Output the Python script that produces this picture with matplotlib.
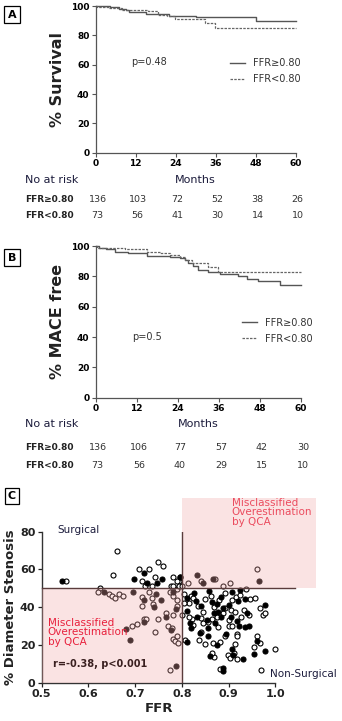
import numpy as np
import matplotlib
matplotlib.use("Agg")
import matplotlib.pyplot as plt
from matplotlib import patches, transforms

# ---- panel A: survival ----
a_hi_t = [0, 4.3, 7, 9, 10, 15, 22, 30, 48, 60]
a_hi_s = [100, 99, 98, 97, 96, 94.5, 93.4, 92.3, 89.5, 89.5]
a_lo_t = [0, 0.5, 4, 7.8, 15.8, 18.8, 21.5, 23.8, 32.8, 35.8, 60]
a_lo_s = [100, 99, 98.5, 97.5, 96.8, 93.9, 93.4, 90.9, 88.6, 84.8, 84.8]
a_risk_hi = [136, 103, 72, 52, 38, 26]
a_risk_lo = [73, 56, 41, 30, 14, 10]

# ---- panel B: MACE free ----
b_hi_t = [0, 1, 3, 5.6, 9.5, 14.9, 21.7, 24.6, 26, 27, 28.5, 30, 32.9, 36.3, 41.7, 44.1, 47.5, 53.8, 60]
b_hi_s = [100, 99, 98, 96.3, 95.2, 93.7, 93, 91.9, 90.8, 88.7, 86.9, 84.3, 82.6, 81.5, 80, 78.4, 76.7, 74.5, 74.5]
b_lo_t = [0, 0.5, 8.6, 14.9, 18.8, 21.7, 24.6, 26, 28, 32.9, 35.8, 60]
b_lo_s = [100, 99, 97.8, 96.3, 95.2, 94.1, 93, 90.8, 88.7, 86, 82.8, 82.8]
b_risk_hi = [136, 106, 77, 57, 42, 30]
b_risk_lo = [73, 56, 40, 29, 15, 10]

months = [0, 12, 24, 36, 48, 60]

# ---- panel C: FFR vs % diameter stenosis ----
filled = [(0.544,54),(0.633,48),(0.68,28.7),(0.69,22.6),(0.698,55),(0.72,58),(0.725,53),(0.696,48),
          (0.718,44),(0.72,32),(0.741,40),(0.745,47),(0.758,55),(0.756,44),(0.746,53),(0.767,35),
          (0.78,48),(0.777,28),(0.787,8.8),(0.787,39),(0.797,55.8),
          (0.832,57),(0.846,53),(0.867,55),(0.966,54),(0.925,49),
          (0.81,45),(0.827,47.5),(0.83,43.5),(0.84,40.6),(0.832,35),(0.818,31.5),(0.819,28.8),(0.81,38),
          (0.811,21.6),(0.839,26.5),(0.857,24.7),(0.861,14.3),(0.876,19.8),(0.887,8),(0.887,6.4),
          (0.907,17.7),(0.91,14.8),(0.93,12.5),(0.895,26),(0.922,30),(0.935,29.7),(0.943,30),(0.939,37),
          (0.935,44.5),(0.955,15),(0.961,22),(0.977,41),(0.977,16.8),
          (0.858,48.8),(0.865,43),(0.875,41.7),(0.884,45.6),(0.887,39.4),(0.9,41),(0.921,43.5),(0.906,35),
          (0.871,31.8),(0.853,33.2),(0.884,35),(0.878,37.6),(0.868,36.7),(0.856,29),(0.907,48),(0.917,32.9)]
hollow = [(0.553,54),(0.662,70),(0.652,57),(0.625,50),(0.62,48),(0.644,47),(0.65,46),(0.657,45),(0.666,47),
          (0.673,46),(0.693,30),(0.704,31),(0.709,60),(0.715,54),(0.729,60),(0.722,51),(0.714,45.6),
          (0.714,40.6),(0.719,34),(0.724,34),(0.742,26.7),(0.739,41.7),(0.737,44.7),(0.743,56),(0.736,51),
          (0.729,48),(0.749,64),(0.759,62),(0.749,34),(0.766,37),(0.78,55.8),(0.776,51),(0.782,51),
          (0.775,48),(0.782,46),(0.78,36),(0.771,30),(0.779,29),(0.782,23),(0.785,22),(0.789,25),
          (0.792,21),(0.774,6.7),(0.789,44),(0.789,49.5),(0.794,54),(0.797,56),(0.789,54),(0.794,51),
          (0.8,36),(0.79,40.6),
          (0.801,51),(0.814,53),(0.841,54),(0.87,55),(0.888,51),(0.902,53),(0.961,60),(0.938,49.5),
          (0.805,47),(0.815,42),(0.82,46),(0.823,45),(0.834,40.6),(0.846,37.6),(0.822,34),(0.823,30.6),
          (0.816,35),(0.804,42),(0.807,22.6),(0.836,22.6),(0.849,20.5),(0.867,21),(0.868,13.8),
          (0.865,15.5),(0.882,21.7),(0.881,7),(0.898,14.8),(0.902,12.9),(0.912,16),(0.917,12.5),
          (0.913,20.5),(0.892,25),(0.901,30),(0.917,26),(0.919,24.7),(0.944,36),(0.932,38.5),
          (0.946,44.5),(0.956,45),(0.955,19),(0.961,24.7),(0.968,21),(0.968,39.4),(0.974,36),
          (0.977,36.7),(1.0,17.7),(0.969,6.7),
          (0.849,44.5),(0.863,46),(0.868,40.3),(0.88,43.8),(0.893,39.4),(0.907,43.8),(0.915,45.2),
          (0.905,38.5),(0.913,37.6),(0.9,33),(0.878,29.7),(0.864,33.6),(0.857,32.3),(0.846,31.5),
          (0.889,36.7),(0.875,35),(0.907,30),(0.84,34.3),(0.893,47.3),(0.924,46.3),(0.927,35),(0.84,27)]

W, H = 342, 721
NAVY = "#1c1c3c"
RED = "#e8203c"


def fx(px):
    return px / W


def fy(py):
    return 1 - py / H


def panel_label(fig, letter, cy):
    fig.text(fx(12), fy(cy), letter, ha="center", va="center", fontsize=8, fontweight="bold",
             bbox=dict(boxstyle="square,pad=0.3", fc="white", ec="black", lw=0.9))


def km_panel(fig, rect, hi_t, hi_s, lo_t, lo_s, ylabel, ptext, pxy, legxy,
             risk_hi, risk_lo, months_y, rows_y, label_cy, letter):
    ax = fig.add_axes(rect)
    ax.step(hi_t, hi_s, where="post", color="#555555", lw=1.0, label="FFR\u22650.80", clip_on=False)
    ax.step(lo_t, lo_s, where="post", color="#666666", lw=0.9, ls=(0, (2, 1)), label="FFR<0.80", clip_on=False)
    ax.set_xlim(0, 60)
    ax.set_ylim(0, 100)
    ax.set_xticks(months)
    ax.set_yticks([0, 20, 40, 60, 80, 100])
    for s in ["top", "right"]:
        ax.spines[s].set_visible(False)
    for s in ["left", "bottom"]:
        ax.spines[s].set_color("#555555")
        ax.spines[s].set_linewidth(0.9)
    ax.tick_params(direction="out", length=3, width=0.8, color="#555555", labelsize=6.5, pad=1.5)
    for lab in ax.get_xticklabels() + ax.get_yticklabels():
        lab.set_fontweight("bold")
    ax.set_ylabel(ylabel, fontsize=11.5, fontweight="bold", color="#222222", labelpad=4)
    ax.text(pxy[0], pxy[1], ptext, fontsize=7, color="#333333")
    ax.legend(frameon=False, fontsize=7, handlelength=1.6, handletextpad=0.75, labelspacing=0.6,
              loc="upper left", bbox_to_anchor=legxy, borderaxespad=0, labelcolor="#333333")
    tr = transforms.blended_transform_factory(ax.transData, fig.transFigure)
    ax.text(30, fy(months_y), "Months", transform=tr, ha="center", va="center", fontsize=8, color=NAVY)
    fig.text(fx(25), fy(months_y), "No at risk", ha="left", va="center", fontsize=8, color=NAVY)
    fig.text(fx(25), fy(rows_y[0]), "FFR\u22650.80", ha="left", va="center", fontsize=6.5,
             fontweight="bold", color="#222222")
    fig.text(fx(25), fy(rows_y[1]), "FFR<0.80", ha="left", va="center", fontsize=6.5,
             fontweight="bold", color="#222222")
    for m, h, l in zip(months, risk_hi, risk_lo):
        ax.text(m + 0.6, fy(rows_y[0]), str(h), transform=tr, ha="center", va="center", fontsize=6.8, color="#333333")
        ax.text(m + 0.6, fy(rows_y[1]), str(l), transform=tr, ha="center", va="center", fontsize=6.8, color="#333333")
    panel_label(fig, letter, label_cy)
    return ax


fig = plt.figure(figsize=(W / 100, H / 100), dpi=100)

km_panel(fig, [fx(95.7), fy(152.7), fx(200), 146.7 / H], a_hi_t, a_hi_s, a_lo_t, a_lo_s,
         "% Survival", "p=0.48", (10.5, 60), (0.651, 0.67), a_risk_hi, a_risk_lo,
         180, (199, 216), 14.5, "A")
km_panel(fig, [fx(95.7), fy(397.7), fx(205.3), 151.7 / H], b_hi_t, b_hi_s, b_lo_t, b_lo_s,
         "% MACE free", "p=0.5", (10.5, 38), (0.693, 0.552), b_risk_hi, b_risk_lo,
         424, (448, 466), 257.5, "B")

# ---- panel C ----
ax = fig.add_axes([fx(41.7), fy(682.7), fx(233.6), 151 / H])
fxs = [p[0] for p in filled]
fys = [p[1] for p in filled]
hxs = [p[0] for p in hollow]
hys = [p[1] for p in hollow]
ax.scatter(hxs, hys, s=13, facecolor="white", edgecolor="black", linewidth=0.8, zorder=3, clip_on=False)
ax.scatter(fxs, fys, s=13, facecolor="black", edgecolor="black", linewidth=0.8, zorder=3, clip_on=False)
ax.add_patch(patches.Rectangle((0.5, 0), 0.3, 50, facecolor="#f2a8a8", alpha=0.32, lw=0, zorder=4))
ax.add_patch(patches.Rectangle((0.8, 50), 0.288, 47.7, facecolor="#f2a8a8", alpha=0.32, lw=0,
                               zorder=4, clip_on=False))
ax.axvline(0.8, ymin=0, ymax=1, color="#5a3c3c", lw=1.0, zorder=5)
ax.axhline(50, xmin=0, xmax=1.084, color="#5a3c3c", lw=1.0, zorder=5, clip_on=False)
ax.set_xlim(0.5, 1.0)
ax.set_ylim(0, 80)
ax.set_xticks([0.5, 0.6, 0.7, 0.8, 0.9, 1.0])
ax.set_yticks([0, 20, 40, 60, 80])
for s in ["top", "right"]:
    ax.spines[s].set_visible(False)
for s in ["left", "bottom"]:
    ax.spines[s].set_color("#333333")
    ax.spines[s].set_linewidth(1.0)
ax.tick_params(direction="out", length=3, width=0.9, labelsize=8, pad=1.5, colors="#222222")
for lab in ax.get_xticklabels() + ax.get_yticklabels():
    lab.set_fontweight("bold")
ax.set_xlabel("FFR", fontsize=9.5, fontweight="bold", color="#222222", labelpad=2)
ax.set_ylabel("% Diameter Stenosis", fontsize=9.5, fontweight="bold", color="#222222", labelpad=2)
ax.text(0.534, 81, "Surgical", fontsize=7.5, color=NAVY, ha="left", va="center")
ax.text(0.907, 98, "Misclassified\nOverestimation\nby QCA", fontsize=7.5, color=RED, ha="left", va="top",
        linespacing=0.95)
ax.text(0.513, 34.5, "Misclassified\nOverestimation\nby QCA", fontsize=7.5, color=RED, ha="left", va="top",
        linespacing=0.95, zorder=6)
ax.text(0.525, 10, "r=-0.38, p<0.001", fontsize=7, fontweight="bold", color="#3a2020", ha="left",
        va="center", zorder=6)
ax.text(0.988, 4.5, "Non-Surgical", fontsize=7.5, color=NAVY, ha="left", va="center")
panel_label(fig, "C", 496)

fig.savefig("out.png", dpi=100)
